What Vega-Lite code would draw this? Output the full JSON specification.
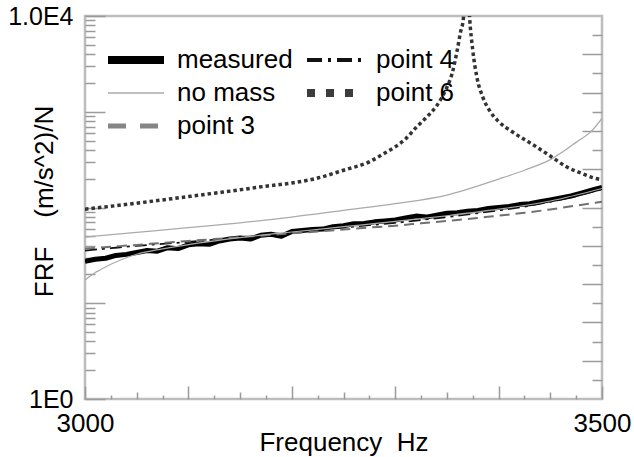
{
  "$schema": "https://vega.github.io/schema/vega-lite/v6.json",
  "width": 517,
  "height": 383,
  "autosize": "none",
  "padding": {"left": 85, "top": 16, "right": 32, "bottom": 58},
  "background": "white",
  "config": {
    "view": {"stroke": "#bdbdbd", "strokeWidth": 2.5},
    "axis": {"labelFont": "Liberation Sans", "titleFont": "Liberation Sans", "labelFontSize": 25, "titleFontSize": 26, "labelColor": "#000", "titleColor": "#000", "titleFontWeight": "normal", "domain": false, "grid": false, "tickColor": "#9a9a9a", "tickWidth": 1.5, "labelFlush": false, "labelOverlap": false}
  },
  "datasets": {
    "curves": [
      {"s":"measured","f":3000,"v":27.5},{"s":"measured","f":3010,"v":28.8},{"s":"measured","f":3020,"v":29.5},{"s":"measured","f":3030,"v":31.6},{"s":"measured","f":3040,"v":32.4},{"s":"measured","f":3050,"v":33.9},{"s":"measured","f":3060,"v":35.5},{"s":"measured","f":3070,"v":35.0},{"s":"measured","f":3080,"v":38.0},{"s":"measured","f":3090,"v":37.2},{"s":"measured","f":3100,"v":40.7},{"s":"measured","f":3110,"v":41.7},{"s":"measured","f":3120,"v":41.2},{"s":"measured","f":3130,"v":44.7},{"s":"measured","f":3140,"v":46.8},{"s":"measured","f":3150,"v":47.9},{"s":"measured","f":3160,"v":46.8},{"s":"measured","f":3170,"v":51.3},{"s":"measured","f":3180,"v":52.5},{"s":"measured","f":3190,"v":50.1},{"s":"measured","f":3200,"v":56.2},{"s":"measured","f":3210,"v":57.5},{"s":"measured","f":3220,"v":58.9},{"s":"measured","f":3230,"v":59.5},{"s":"measured","f":3240,"v":63.1},{"s":"measured","f":3250,"v":64.6},{"s":"measured","f":3260,"v":67.6},{"s":"measured","f":3270,"v":68.0},{"s":"measured","f":3280,"v":70.8},{"s":"measured","f":3290,"v":72.4},{"s":"measured","f":3300,"v":74.1},{"s":"measured","f":3310,"v":77.6},{"s":"measured","f":3320,"v":81.3},{"s":"measured","f":3330,"v":79.4},{"s":"measured","f":3340,"v":83.2},{"s":"measured","f":3350,"v":87.1},{"s":"measured","f":3360,"v":88.0},{"s":"measured","f":3370,"v":91.2},{"s":"measured","f":3380,"v":93.3},{"s":"measured","f":3390,"v":97.7},{"s":"measured","f":3400,"v":100},{"s":"measured","f":3410,"v":102.3},{"s":"measured","f":3420,"v":107.2},{"s":"measured","f":3430,"v":109.6},{"s":"measured","f":3440,"v":114.8},{"s":"measured","f":3450,"v":120.2},{"s":"measured","f":3460,"v":125.9},{"s":"measured","f":3470,"v":131.8},{"s":"measured","f":3480,"v":141.3},{"s":"measured","f":3490,"v":151.4},{"s":"measured","f":3500,"v":162.2},
      {"s":"point 4","f":3000,"v":35.5},{"s":"point 4","f":3025,"v":37.6},{"s":"point 4","f":3050,"v":39.8},{"s":"point 4","f":3075,"v":41.7},{"s":"point 4","f":3100,"v":43.7},{"s":"point 4","f":3125,"v":46.2},{"s":"point 4","f":3150,"v":49.0},{"s":"point 4","f":3175,"v":51.9},{"s":"point 4","f":3200,"v":55.0},{"s":"point 4","f":3225,"v":58.2},{"s":"point 4","f":3250,"v":61.7},{"s":"point 4","f":3275,"v":65.3},{"s":"point 4","f":3300,"v":69.2},{"s":"point 4","f":3325,"v":74.1},{"s":"point 4","f":3350,"v":79.4},{"s":"point 4","f":3375,"v":86.1},{"s":"point 4","f":3400,"v":93.3},{"s":"point 4","f":3425,"v":102.3},{"s":"point 4","f":3450,"v":114.8},{"s":"point 4","f":3475,"v":131.8},{"s":"point 4","f":3500,"v":154.9},
      {"s":"point 3","f":3000,"v":37.2},{"s":"point 3","f":3025,"v":38.9},{"s":"point 3","f":3050,"v":40.7},{"s":"point 3","f":3075,"v":42.7},{"s":"point 3","f":3100,"v":44.7},{"s":"point 3","f":3125,"v":46.8},{"s":"point 3","f":3150,"v":49.0},{"s":"point 3","f":3175,"v":51.3},{"s":"point 3","f":3200,"v":53.7},{"s":"point 3","f":3225,"v":56.2},{"s":"point 3","f":3250,"v":58.9},{"s":"point 3","f":3275,"v":61.7},{"s":"point 3","f":3300,"v":64.6},{"s":"point 3","f":3325,"v":68.4},{"s":"point 3","f":3350,"v":72.4},{"s":"point 3","f":3375,"v":76.7},{"s":"point 3","f":3400,"v":82.2},{"s":"point 3","f":3425,"v":88.1},{"s":"point 3","f":3450,"v":95.5},{"s":"point 3","f":3475,"v":104.7},{"s":"point 3","f":3500,"v":114.8},
      {"s":"no mass","f":3000,"v":49.0},{"s":"no mass","f":3050,"v":55.0},{"s":"no mass","f":3100,"v":61.7},{"s":"no mass","f":3150,"v":69.2},{"s":"no mass","f":3200,"v":79.4},{"s":"no mass","f":3250,"v":93.3},{"s":"no mass","f":3300,"v":109.6},{"s":"no mass","f":3350,"v":134.9},{"s":"no mass","f":3400,"v":198},{"s":"no mass","f":3425,"v":245},{"s":"no mass","f":3450,"v":316.2},{"s":"no mass","f":3475,"v":478.6},{"s":"no mass","f":3490,"v":631},{"s":"no mass","f":3500,"v":851},
      {"s":"point 6","f":3000,"v":96},{"s":"point 6","f":3025,"v":103},{"s":"point 6","f":3050,"v":111},{"s":"point 6","f":3075,"v":120},{"s":"point 6","f":3100,"v":130},{"s":"point 6","f":3125,"v":141},{"s":"point 6","f":3150,"v":153},{"s":"point 6","f":3175,"v":167},{"s":"point 6","f":3200,"v":180},{"s":"point 6","f":3225,"v":203},{"s":"point 6","f":3250,"v":245},{"s":"point 6","f":3275,"v":300},{"s":"point 6","f":3290,"v":370},{"s":"point 6","f":3300,"v":430},{"s":"point 6","f":3310,"v":520},{"s":"point 6","f":3320,"v":680},{"s":"point 6","f":3330,"v":870},{"s":"point 6","f":3340,"v":1150},{"s":"point 6","f":3345,"v":1400},{"s":"point 6","f":3350,"v":1800},{"s":"point 6","f":3355,"v":2500},{"s":"point 6","f":3360,"v":4400},{"s":"point 6","f":3363,"v":6640},{"s":"point 6","f":3366,"v":9530},{"s":"point 6","f":3369,"v":40000},{"s":"point 6","f":3372,"v":9500},{"s":"point 6","f":3375,"v":4400},{"s":"point 6","f":3379,"v":2300},{"s":"point 6","f":3385,"v":1400},{"s":"point 6","f":3392,"v":1000},{"s":"point 6","f":3400,"v":790},{"s":"point 6","f":3414,"v":610},{"s":"point 6","f":3433,"v":455},{"s":"point 6","f":3450,"v":345},{"s":"point 6","f":3466,"v":265},{"s":"point 6","f":3480,"v":228},{"s":"point 6","f":3491,"v":205},{"s":"point 6","f":3500,"v":195},
      {"s":"model","f":3000,"v":17.5},{"s":"model","f":3005,"v":19.3},{"s":"model","f":3010,"v":21.0},{"s":"model","f":3015,"v":22.4},{"s":"model","f":3025,"v":25.5},{"s":"model","f":3035,"v":28.5},{"s":"model","f":3050,"v":32.5},{"s":"model","f":3075,"v":37.0},{"s":"model","f":3100,"v":41.0},{"s":"model","f":3150,"v":48.5},{"s":"model","f":3200,"v":55.5},{"s":"model","f":3250,"v":63},{"s":"model","f":3300,"v":71.5},{"s":"model","f":3350,"v":82},{"s":"model","f":3400,"v":96},{"s":"model","f":3450,"v":117},{"s":"model","f":3500,"v":158}
    ]
  },
  "data": {"name": "curves"},
  "encoding": {
    "x": {
      "field": "f", "type": "quantitative",
      "scale": {"domain": [3000, 3500], "nice": false, "zero": false},
      "axis": {
        "values": [3000,3025,3050,3075,3100,3125,3150,3175,3200,3225,3250,3275,3300,3325,3350,3375,3400,3425,3450,3475,3500],
        "tickSize": {"condition": [{"test": "datum.value % 100 == 0", "value": -13}, {"test": "datum.value % 50 == 0", "value": -7}], "value": -4},
        "labelExpr": "datum.value == 3000 || datum.value == 3500 ? datum.label : ''",
        "format": "d",
        "labelFontSize": 26,
        "labelBaseline": "top",
        "labelPadding": 24,
        "title": "Frequency\u00a0\u00a0Hz",
        "titleBaseline": "alphabetic",
        "titleY": 51
      }
    }
  },
  "resolve": {"axis": {"y": "independent"}},
  "layer": [
    {
      "mark": {"type": "line", "opacity": 0, "clip": true},
      "transform": [{"filter": "datum.s != 'model'"}],
      "encoding": {
        "y": {"field": "v", "type": "quantitative", "scale": {"type": "log", "domain": [1, 10000], "nice": false}, "axis": null},
        "color": {"field": "s", "type": "nominal",
          "scale": {"domain": ["measured", "no mass", "point 3", "point 4", "point 6"], "range": ["#000000", "#aaaaaa", "#858585", "#111111", "#3c3c3c"]},
          "legend": {"orient": "none", "legendX": 19, "legendY": 28.5, "columns": 2, "columnPadding": 10, "rowPadding": 2, "clipHeight": 31, "padding": 0, "symbolType": "stroke", "symbolSize": 3136, "symbolOpacity": 1, "labelFont": "Liberation Sans", "labelFontSize": 26, "labelColor": "#000", "labelOffset": 9, "labelLimit": 300, "title": null,
            "labelExpr": "datum.label == 'point 3' ? '\u00a0point 3' : datum.label"}},
        "strokeDash": {"field": "s", "type": "nominal",
          "scale": {"domain": ["measured", "no mass", "point 3", "point 4", "point 6"], "range": [[1, 0], [1, 0], [18, 14], [15, 6, 3, 6], [8, 11]]}},
        "strokeWidth": {"field": "s", "type": "nominal",
          "scale": {"type": "ordinal", "domain": ["measured", "no mass", "point 3", "point 4", "point 6"], "range": [8, 1.5, 5, 4, 8]}}
      }
    },
    {
      "mark": {"type": "line", "color": "#000000", "strokeWidth": 5, "strokeJoin": "round", "clip": true},
      "transform": [{"filter": "datum.s == 'measured'"}],
      "encoding": {
        "y": {"field": "v", "type": "quantitative", "scale": {"type": "log", "domain": [1, 10000], "nice": false},
          "axis": {
            "orient": "left",
            "values": [1,2,3,4,5,6,7,8,9,10,20,30,40,50,60,70,80,90,100,200,300,400,500,600,700,800,900,1000,2000,3000,4000,5000,6000,7000,8000,9000,10000],
            "tickSize": {"condition": {"test": "indexof([1,10,100,1000,10000], datum.value) >= 0", "value": -20}, "value": -10},
            "labelExpr": "datum.value == 10000 ? '1.0E4' : datum.value == 1 ? '1E0' : ''",
            "labelPadding": 32,
            "labelBaseline": "middle",
            "title": "FRF\u00a0\u00a0\u00a0\u00a0(m/s^2)/N",
            "titleX": -33,
            "titleY": 185,
            "titleAngle": -90,
            "titleBaseline": "alphabetic",
            "titleAlign": "center"
          }}
      }
    },
    {
      "mark": {"type": "line", "color": "#111111", "strokeWidth": 1.8, "strokeDash": [12, 5, 3, 5], "interpolate": "monotone", "clip": true},
      "transform": [{"filter": "datum.s == 'point 4'"}],
      "encoding": {"y": {"field": "v", "type": "quantitative", "scale": {"type": "log", "domain": [1, 10000], "nice": false}, "axis": null}}
    },
    {
      "mark": {"type": "line", "color": "#707070", "strokeWidth": 2, "strokeDash": [10, 6], "interpolate": "monotone", "clip": true},
      "transform": [{"filter": "datum.s == 'point 3'"}],
      "encoding": {"y": {"field": "v", "type": "quantitative", "scale": {"type": "log", "domain": [1, 10000], "nice": false}, "axis": null}}
    },
    {
      "mark": {"type": "line", "color": "#aaaaaa", "strokeWidth": 1.3, "interpolate": "monotone", "clip": true},
      "transform": [{"filter": "datum.s == 'no mass'"}],
      "encoding": {"y": {"field": "v", "type": "quantitative", "scale": {"type": "log", "domain": [1, 10000], "nice": false}, "axis": null}}
    },
    {
      "mark": {"type": "line", "color": "#aaaaaa", "strokeWidth": 1.2, "interpolate": "monotone", "clip": true},
      "transform": [{"filter": "datum.s == 'model'"}],
      "encoding": {"y": {"field": "v", "type": "quantitative", "scale": {"type": "log", "domain": [1, 10000], "nice": false},
        "axis": {
          "orient": "right",
          "values": [1.585,2.512,3.981,6.31,10,15.85,25.12,39.81,63.1,100,158.5,251.2,398.1,631,1000,1585,2512,3981,6310],
          "tickSize": {"condition": {"test": "indexof([2.512,6.31,15.85,39.81,100,251.2,631,1585,3981], datum.value) >= 0", "value": -20}, "value": -10},
          "labels": false,
          "title": null
        }}}
    },
    {
      "mark": {"type": "line", "color": "#333333", "strokeWidth": 3.5, "strokeDash": [3.5, 3], "interpolate": "monotone", "clip": true},
      "transform": [{"filter": "datum.s == 'point 6'"}],
      "encoding": {"y": {"field": "v", "type": "quantitative", "scale": {"type": "log", "domain": [1, 10000], "nice": false}, "axis": null}}
    }
  ]
}
